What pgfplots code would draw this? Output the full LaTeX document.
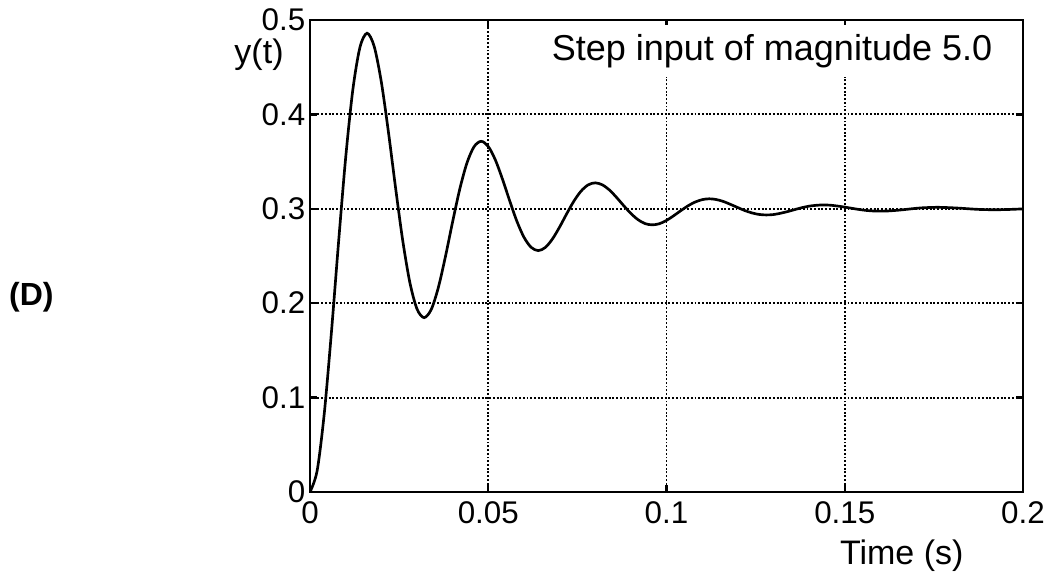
\documentclass[border=0pt]{standalone}
\usepackage{pgfplots}
\pgfplotsset{compat=1.18}
\usepackage{pgfplotstable}
\usepackage{fontspec}
\setmainfont{Liberation Sans}
\pgfplotstableread{
t y
0 0
0.002 0.0225
0.004 0.0831
0.006 0.1688
0.008 0.2641
0.010 0.3539
0.012 0.4257
0.014 0.4709
0.016 0.4860
0.018 0.4721
0.020 0.4345
0.022 0.3813
0.024 0.3223
0.026 0.2666
0.028 0.2221
0.030 0.1940
0.032 0.1847
0.034 0.1933
0.036 0.2166
0.038 0.2496
0.040 0.2862
0.042 0.3207
0.044 0.3483
0.046 0.3657
0.048 0.3715
0.050 0.3661
0.052 0.3517
0.054 0.3313
0.056 0.3086
0.058 0.2871
0.060 0.2700
0.062 0.2593
0.064 0.2557
0.066 0.2590
0.068 0.2680
0.070 0.2806
0.072 0.2947
0.074 0.3080
0.076 0.3186
0.078 0.3253
0.080 0.3275
0.082 0.3254
0.084 0.3199
0.086 0.3120
0.088 0.3033
0.090 0.2951
0.092 0.2885
0.094 0.2843
0.096 0.2830
0.098 0.2842
0.100 0.2877
0.102 0.2926
0.104 0.2980
0.106 0.3031
0.108 0.3071
0.110 0.3097
0.112 0.3106
0.114 0.3098
0.116 0.3077
0.118 0.3046
0.120 0.3013
0.122 0.2981
0.124 0.2956
0.126 0.2940
0.128 0.2935
0.130 0.2939
0.132 0.2953
0.134 0.2971
0.136 0.2992
0.138 0.3012
0.140 0.3028
0.142 0.3037
0.144 0.3041
0.146 0.3038
0.148 0.3029
0.150 0.3018
0.152 0.3005
0.154 0.2993
0.156 0.2983
0.158 0.2977
0.160 0.2975
0.162 0.2977
0.164 0.2982
0.166 0.2989
0.168 0.2997
0.170 0.3005
0.172 0.3011
0.174 0.3014
0.176 0.3016
0.178 0.3014
0.180 0.3011
0.182 0.3007
0.184 0.3002
0.186 0.2997
0.188 0.2993
0.190 0.2991
0.192 0.2990
0.194 0.2991
0.196 0.2993
0.198 0.2996
0.200 0.2999
}\resp
\begin{document}
\begin{tikzpicture}
\useasboundingbox (0,0) rectangle (786.75pt,434.25pt);
\node[font=\fontsize{24}{28}\selectfont\bfseries] at (23.5pt,211.5pt) {(D)};
\begin{axis}[
  at={(232.5pt,65.25pt)}, anchor=south west,
  scale only axis, width=534.75pt, height=354pt,
  xmin=0, xmax=0.2, ymin=0, ymax=0.5,
  xtick={0,0.05,0.1,0.15,0.2},
  xticklabels={0,0.05,0.1,0.15,0.2},
  ytick={0,0.1,0.2,0.3,0.4,0.5},
  yticklabels={0,0.1,0.2,0.3,0.4,0.5},
  tick align=inside,
  major tick length=5.25pt,
  tick style={line width=1.8pt, black},
  axis line style={line width=2.2pt},
  grid=major,
  major grid style={line width=1.4pt, black, dash pattern=on 1.4pt off 1.4pt},
  ticklabel style={font=\fontsize{23.5}{26}\selectfont},
  xticklabel style={yshift=-3.5pt},
  yticklabel style={xshift=0pt},
  xlabel={Time (s)},
  ylabel={y(t)},
  label style={font=\fontsize{25.5}{29}\selectfont},
  xlabel style={at={(axis description cs:0.830,-0.1356)}, anchor=center},
  ylabel style={at={(axis description cs:-0.0715,0.926)}, anchor=center, rotate=-90},
]
\addplot[black, line width=2pt, smooth] table[x=t, y=y] {\resp};
\node[fill=white, inner xsep=14pt, inner ysep=7pt, font=\fontsize{27}{31}\selectfont]
  at (axis description cs:0.648,0.934) {Step input of magnitude 5.0};
\end{axis}
\end{tikzpicture}
\end{document}
